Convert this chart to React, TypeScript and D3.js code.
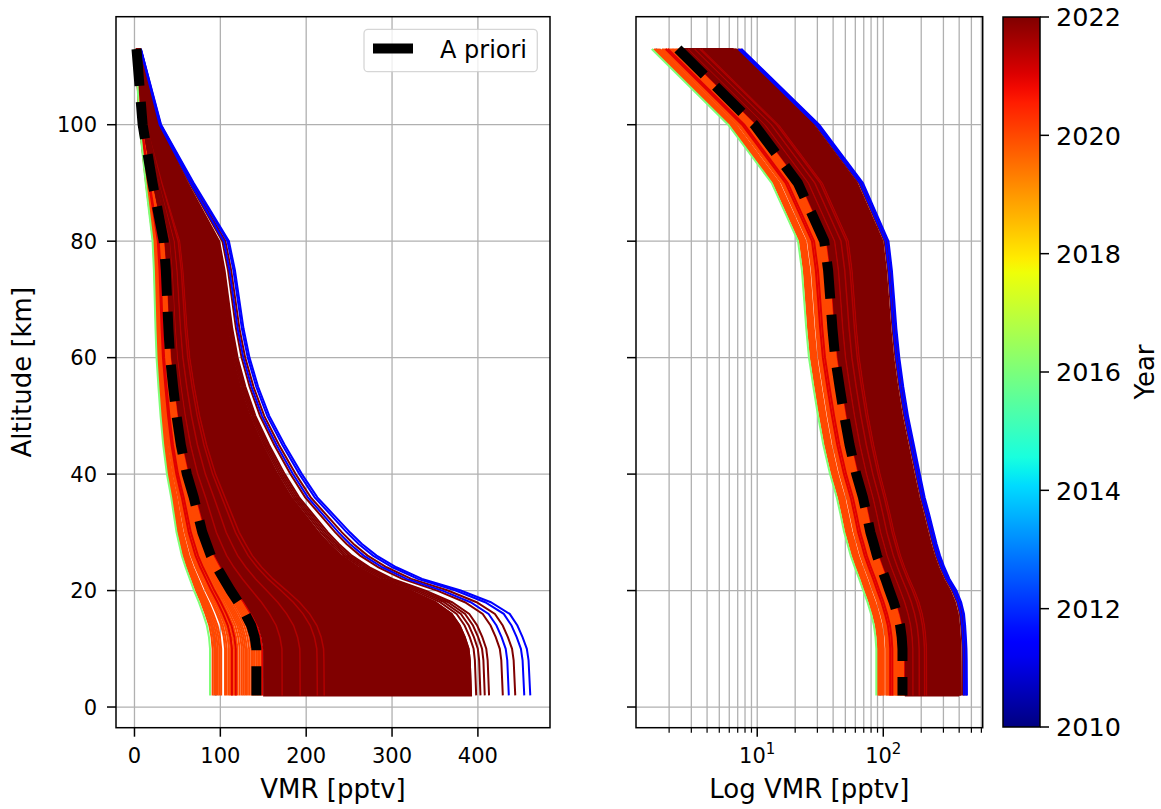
import React from "react";
import * as d3 from "d3";

// ---------------- data ----------------
const ALTITUDE_KM = [2, 5, 8, 10, 12, 14, 16, 18, 20, 22, 24, 26, 28, 30, 33, 36, 40, 45, 50, 55, 60, 65, 70, 75, 80, 90, 100, 113];
// a priori profile (dashed black)
const APRIORI_PPTV = [142, 142, 142, 142, 140, 136, 129, 121, 112, 104, 96, 89, 84, 79, 74, 69, 61, 54, 49, 45, 41.5, 39.5, 38, 36.5, 34, 21, 9.5, 2.35];
// outermost (largest) retrieved profile, read from the right-hand edge of the bundle
const UPPER_PPTV = [461, 460, 459, 457, 452, 446, 437, 415, 380, 335, 305, 282, 265, 251, 232, 213, 195, 175, 157, 144, 134, 127, 122, 117, 110, 69, 31, 7.5];

// retrieved profiles, identified by their value at the lowest level (pptv), grouped by year
const SURFACE_2013 = [94.5];
const SURFACE_2020 = [91, 93, 95, 97, 99, 101, 105.5, 107.5, 110, 112, 114, 116, 118, 120, 122.5, 125, 127, 129, 131, 133.5, 136, 138, 140, 142, 144, 146, 148];
const SURFACE_2021 = [113.5, 118, 149, 152.5, 156];
const BAND_2022 = [151, 392];
const SURFACE_2021_5 = [172, 193, 213, 221];
const SURFACE_2022 = [152, 159, 165, 178, 185, 202, 228, 250, 285, 325, 362, 383, 392, 398, 403, 408, 413, 429, 443.5];
const SURFACE_2011 = [436, 454, 461];
const SURFACE_2016 = [88];

const X_TICKS = [0, 100, 200, 300, 400];
const Y_TICKS = [0, 20, 40, 60, 80, 100];
const LOG_MAJOR = [10, 100];
const CB_TICKS = [2010, 2012, 2014, 2016, 2018, 2020, 2022];
const YEAR_RANGE = [2010, 2022];

// ---------------- layout ----------------
const W = 1161;
const H = 809;
const AX_TOP = 16.7;
const AX_BOT = 727.7;
const L_X0 = 116;
const L_X1 = 550;
const R_X0 = 636;
const R_X1 = 982.7;
const CB_X0 = 1003;
const CB_X1 = 1040;
const CB_Y0 = 17;
const CB_Y1 = 727;
const FONT = "DejaVu Sans, sans-serif";
const GRID = "#b0b0b0";

const JET: Record<string, number[][]> = {
  r: [[0, 0], [0.35, 0], [0.66, 1], [0.89, 1], [1, 0.5]],
  g: [[0, 0], [0.125, 0], [0.375, 1], [0.64, 1], [0.91, 0], [1, 0]],
  b: [[0, 0.5], [0.11, 1], [0.34, 1], [0.65, 0], [1, 0]],
};
function seg(pts: number[][], t: number) {
  for (let i = 1; i < pts.length; i++) {
    if (t <= pts[i][0]) {
      const [x0, y0] = pts[i - 1];
      const [x1, y1] = pts[i];
      return y0 + ((t - x0) / (x1 - x0)) * (y1 - y0);
    }
  }
  return pts[pts.length - 1][1];
}
function jet(t: number) {
  const c = Math.max(0, Math.min(1, t));
  return d3.rgb(255 * seg(JET.r, c), 255 * seg(JET.g, c), 255 * seg(JET.b, c)).formatHex();
}
const yearColor = (y: number) => jet((y - YEAR_RANGE[0]) / (YEAR_RANGE[1] - YEAR_RANGE[0]));

// profile anchored at surface value s: scaled a priori below the a priori,
// log-blend between the a priori and the upper profile above it
function profile(s: number): number[] {
  const a0 = APRIORI_PPTV[0];
  if (s <= a0) return APRIORI_PPTV.map((a) => (a * s) / a0);
  const w = Math.log(s / a0) / Math.log(UPPER_PPTV[0] / a0);
  return APRIORI_PPTV.map((a, i) => Math.pow(a, 1 - w) * Math.pow(UPPER_PPTV[i], w));
}

export default function App() {
  const allSurf = [...SURFACE_2013, ...SURFACE_2020, ...SURFACE_2021, ...BAND_2022, ...SURFACE_2021_5, ...SURFACE_2022, ...SURFACE_2011, ...SURFACE_2016];
  const allVals = allSurf.flatMap((s) => profile(s));
  const vMin = d3.min(allVals)!;
  const vMax = d3.max(allVals)!;
  const aMin = d3.min(ALTITUDE_KM)!;
  const aMax = d3.max(ALTITUDE_KM)!;
  const aR = aMax - aMin;
  const vR = vMax - vMin;
  const lMin = Math.log10(vMin);
  const lMax = Math.log10(vMax);
  const lR = lMax - lMin;

  const y = d3.scaleLinear().domain([aMin - 0.05 * aR, aMax + 0.05 * aR]).range([AX_BOT, AX_TOP]);
  const xL = d3.scaleLinear().domain([vMin - 0.05 * vR, vMax + 0.05 * vR]).range([L_X0, L_X1]);
  const xR = d3.scaleLog().domain([Math.pow(10, lMin - 0.05 * lR), Math.pow(10, lMax + 0.05 * lR)]).range([R_X0, R_X1]);
  const cbY = d3.scaleLinear().domain(YEAR_RANGE).range([CB_Y1, CB_Y0]);

  const [ld0, ld1] = xR.domain();
  const logMinor: number[] = [];
  for (let e = Math.floor(Math.log10(ld0)); e <= Math.ceil(Math.log10(ld1)); e++) {
    for (let m = 2; m <= 9; m++) {
      const v = m * Math.pow(10, e);
      if (v >= ld0 && v <= ld1) logMinor.push(v);
    }
  }

  const panel = (xs: any, clip: string) => {
    const line = (s: number) =>
      d3.line<number>().x((v) => xs(v)).y((_, i) => y(ALTITUDE_KM[i]))(profile(s))!;
    const group = (surf: number[], year: number, key: string, w = 2) =>
      surf.map((s, i) => (
        <path key={key + i} d={line(s)} fill="none" stroke={yearColor(year)} strokeWidth={w} />
      ));
    const lo = profile(BAND_2022[0]);
    const hi = profile(BAND_2022[1]);
    const band = d3
      .area<number>()
      .y((_, i) => y(ALTITUDE_KM[i]))
      .x0((_, i) => xs(lo[i]))
      .x1((_, i) => xs(hi[i]))(ALTITUDE_KM)!;
    const apr = d3
      .line<number>()
      .x((a) => xs(a))
      .y((_, i) => y(ALTITUDE_KM[ALTITUDE_KM.length - 1 - i]))([...APRIORI_PPTV].reverse())!;
    return (
      <g clipPath={`url(#${clip})`}>
        {group(SURFACE_2013, 2013, "b13")}
        {group(SURFACE_2020, 2020, "o20")}
        {group(SURFACE_2021, 2021, "r21")}
        <path d={band} fill={yearColor(2022)} stroke={yearColor(2022)} strokeWidth={2} />
        {group(SURFACE_2021_5, 2021.5, "r215", 1.5)}
        {group(SURFACE_2022, 2022, "m22")}
        {group(SURFACE_2011, 2011.45, "b11")}
        {group(SURFACE_2016, 2016.05, "g16")}
        <path d={apr} fill="none" stroke="#000" strokeWidth={10} strokeDasharray="37,16" />
      </g>
    );
  };

  const gradStops = d3.range(0, 1.0001, 0.02).map((t) => (
    <stop key={t} offset={`${t * 100}%`} stopColor={jet(t)} />
  ));

  return (
    <svg width={W} height={H} style={{ position: "absolute", left: 0, top: 0, background: "#fff" }} fontFamily={FONT}>
      <defs>
        <clipPath id="clipL"><rect x={L_X0} y={AX_TOP} width={L_X1 - L_X0} height={AX_BOT - AX_TOP} /></clipPath>
        <clipPath id="clipR"><rect x={R_X0} y={AX_TOP} width={R_X1 - R_X0} height={AX_BOT - AX_TOP} /></clipPath>
        <linearGradient id="jetGrad" x1="0" y1="1" x2="0" y2="0">{gradStops}</linearGradient>
      </defs>
      <rect x={0} y={0} width={W} height={H} fill="#fff" />

      {/* ---------- left panel ---------- */}
      <g>
        {X_TICKS.map((t) => (
          <line key={"gx" + t} x1={xL(t)} x2={xL(t)} y1={AX_TOP} y2={AX_BOT} stroke={GRID} strokeWidth={1.3} />
        ))}
        {Y_TICKS.map((t) => (
          <line key={"gy" + t} x1={L_X0} x2={L_X1} y1={y(t)} y2={y(t)} stroke={GRID} strokeWidth={1.3} />
        ))}
        {panel(xL, "clipL")}
        <rect x={L_X0} y={AX_TOP} width={L_X1 - L_X0} height={AX_BOT - AX_TOP} fill="none" stroke="#000" strokeWidth={1.5} />
        {X_TICKS.map((t) => (
          <g key={"tx" + t}>
            <line x1={xL(t)} x2={xL(t)} y1={AX_BOT} y2={AX_BOT + 9} stroke="#000" strokeWidth={1.5} />
            <text x={xL(t)} y={763} fontSize={21} textAnchor="middle">{t}</text>
          </g>
        ))}
        {Y_TICKS.map((t) => (
          <g key={"ty" + t}>
            <line x1={L_X0 - 9} x2={L_X0} y1={y(t)} y2={y(t)} stroke="#000" strokeWidth={1.5} />
            <text x={97} y={y(t)} dy="0.36em" fontSize={21} textAnchor="end">{t}</text>
          </g>
        ))}
        <text x={(L_X0 + L_X1) / 2} y={797.5} fontSize={26} textAnchor="middle">VMR [pptv]</text>
        <text transform={`translate(31,${(AX_TOP + AX_BOT) / 2}) rotate(-90)`} fontSize={26} textAnchor="middle">Altitude [km]</text>

        {/* legend */}
        <rect x={364} y={29.3} width={173.3} height={42.4} rx={4} fill="#fff" fillOpacity={0.8} stroke="#cccccc" strokeOpacity={0.8} strokeWidth={1.3} />
        <line x1={373} x2={413} y1={48.5} y2={48.5} stroke="#000" strokeWidth={10} />
        <text x={440} y={58.3} fontSize={24}>A priori</text>
      </g>

      {/* ---------- right panel ---------- */}
      <g>
        {[...LOG_MAJOR, ...logMinor].map((t) => (
          <line key={"lgx" + t} x1={xR(t)} x2={xR(t)} y1={AX_TOP} y2={AX_BOT} stroke={GRID} strokeWidth={1.3} />
        ))}
        {Y_TICKS.map((t) => (
          <line key={"rgy" + t} x1={R_X0} x2={R_X1} y1={y(t)} y2={y(t)} stroke={GRID} strokeWidth={1.3} />
        ))}
        {panel(xR, "clipR")}
        <rect x={R_X0} y={AX_TOP} width={R_X1 - R_X0} height={AX_BOT - AX_TOP} fill="none" stroke="#000" strokeWidth={1.5} />
        {LOG_MAJOR.map((t) => (
          <g key={"rtx" + t}>
            <line x1={xR(t)} x2={xR(t)} y1={AX_BOT} y2={AX_BOT + 9} stroke="#000" strokeWidth={1.5} />
            <text x={xR(t)} y={763} fontSize={21} textAnchor="middle">
              10<tspan fontSize={15} dy={-9}>{Math.round(Math.log10(t))}</tspan>
            </text>
          </g>
        ))}
        {logMinor.map((t) => (
          <line key={"rmx" + t} x1={xR(t)} x2={xR(t)} y1={AX_BOT} y2={AX_BOT + 5} stroke="#000" strokeWidth={1.2} />
        ))}
        {Y_TICKS.map((t) => (
          <line key={"rty" + t} x1={R_X0 - 9} x2={R_X0} y1={y(t)} y2={y(t)} stroke="#000" strokeWidth={1.5} />
        ))}
        <text x={(R_X0 + R_X1) / 2} y={797.5} fontSize={26} textAnchor="middle">Log VMR [pptv]</text>
      </g>

      {/* ---------- colorbar ---------- */}
      <g>
        <rect x={CB_X0} y={CB_Y0} width={CB_X1 - CB_X0} height={CB_Y1 - CB_Y0} fill="url(#jetGrad)" stroke="#000" strokeWidth={1.5} />
        {CB_TICKS.map((t) => (
          <g key={"cb" + t}>
            <line x1={CB_X1} x2={CB_X1 + 9} y1={cbY(t)} y2={cbY(t)} stroke="#000" strokeWidth={1.5} />
            <text x={1056} y={cbY(t)} dy="0.36em" fontSize={25.5}>{t}</text>
          </g>
        ))}
        <text transform={`translate(1154,${(CB_Y0 + CB_Y1) / 2}) rotate(-90)`} fontSize={26} textAnchor="middle">Year</text>
      </g>
    </svg>
  );
}
